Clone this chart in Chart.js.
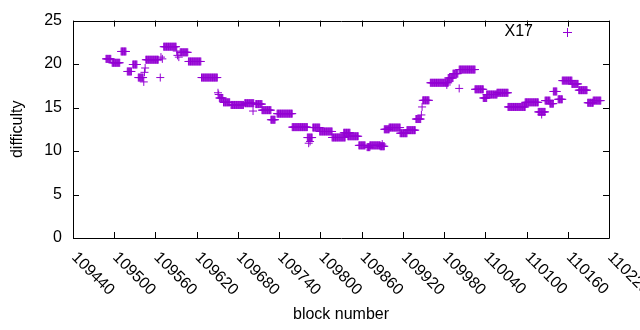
<!DOCTYPE html>
<html>
<head>
<meta charset="utf-8">
<script src="https://cdn.jsdelivr.net/npm/chart.js@4/dist/chart.umd.min.js"></script>
<style>
  html, body { margin: 0; padding: 0; background: #fff; }
  #wrap { width: 640px; height: 330px; }
</style>
</head>
<body>
<div id="wrap"><canvas id="difficultyChart" width="640" height="330"></canvas></div>
<script>
// runs of blocks with the same difficulty
var runStart = [109488, 109497, 109510, 109519, 109527, 109535, 109546, 109572, 109596, 109608,
  109627, 109653, 109659, 109670, 109690, 109706, 109715, 109728, 109737, 109759,
  109781, 109789, 109799, 109817, 109834, 109840, 109856, 109868, 109872, 109887,
  109893, 109900, 109916, 109926, 109939, 109949, 109960, 109986, 109993, 110002,
  110025, 110037, 110042, 110057, 110073, 110098, 110117, 110127, 110134, 110139,
  110146, 110152, 110166, 110176, 110189, 110197];
var runEnd = [109495, 109508, 109517, 109525, 109533, 109542, 109564, 109590, 109607, 109626,
  109650, 109658, 109668, 109688, 109703, 109715, 109728, 109734, 109759, 109781,
  109788, 109799, 109817, 109836, 109843, 109855, 109865, 109872, 109887, 109893,
  109900, 109916, 109926, 109938, 109946, 109958, 109986, 109993, 110000, 110025,
  110037, 110042, 110057, 110073, 110098, 110117, 110127, 110134, 110139, 110144,
  110152, 110166, 110175, 110188, 110197, 110208];
var runDiff = [20.6, 20.15, 21.45, 19.15, 19.95, 18.45, 20.5, 22.0, 21.35, 20.3,
  18.45, 16.1, 15.6, 15.3, 15.5, 15.4, 14.7, 13.6, 14.3, 12.75,
  11.55, 12.7, 12.25, 11.56, 12.1, 11.7, 10.65, 10.45, 10.65, 10.55,
  12.5, 12.7, 12.05, 12.4, 13.68, 15.83, 17.85, 18.4, 18.9, 19.37,
  17.1, 16.1, 16.5, 16.7, 15.07, 15.6, 14.5, 15.8, 15.45, 16.85,
  15.95, 18.1, 17.72, 17.0, 15.55, 15.8];

// lone blocks
var singleBlock = [109543, 109544, 109545, 109567, 109568, 109570, 109591, 109592, 109594, 109651,
  109652, 109702, 109783, 109785, 109890, 109947, 109948, 109984, 110002, 110122];
var singleDiff = [17.95, 19.05, 19.55, 18.45, 20.8, 20.6, 21.5, 21.0, 20.8, 16.7,
  16.5, 14.6, 10.9, 11.1, 10.8, 14.15, 15.07, 17.6, 17.2, 14.2];

var seriesName = 'X17';
var xTicks = [109440, 109500, 109560, 109620, 109680, 109740, 109800, 109860, 109920, 109980, 110040, 110100, 110160, 110220];
var yTicks = [0, 5, 10, 15, 20, 25];
var xTitle = 'block number';
var yTitle = 'difficulty';

var purple = 'rgb(148,0,211)';
var fontName = '"Liberation Sans", Arial, sans-serif';

var points = [];
for (var i = 0; i < runStart.length; i++) {
  for (var b = runStart[i]; b <= runEnd[i]; b++) {
    points.push({ x: b, y: runDiff[i] });
  }
}
for (var j = 0; j < singleBlock.length; j++) {
  points.push({ x: singleBlock[j], y: singleDiff[j] });
}

// gnuplot-like frame, inward ticks, rotated x labels, titles and key
var gnuFrame = {
  id: 'gnuFrame',
  afterDraw: function (chart) {
    var ctx = chart.ctx;
    var a = chart.chartArea;
    var xs = chart.scales.x, ys = chart.scales.y;
    var tl = 6;
    ctx.save();
    ctx.strokeStyle = '#000';
    ctx.lineWidth = 1;
    ctx.beginPath();
    ctx.rect(Math.round(a.left) + 0.5, Math.round(a.top) + 0.5,
      Math.round(a.right - a.left), Math.round(a.bottom - a.top));
    xTicks.forEach(function (v) {
      var px = Math.round(xs.getPixelForValue(v)) + 0.5;
      ctx.moveTo(px, a.bottom); ctx.lineTo(px, a.bottom - tl);
      ctx.moveTo(px, a.top); ctx.lineTo(px, a.top + tl);
    });
    yTicks.forEach(function (v) {
      var py = Math.round(ys.getPixelForValue(v)) + 0.5;
      ctx.moveTo(a.left, py); ctx.lineTo(a.left + tl, py);
      ctx.moveTo(a.right, py); ctx.lineTo(a.right - tl, py);
    });
    ctx.stroke();

    ctx.fillStyle = '#000';
    ctx.font = '16px ' + fontName;
    ctx.textAlign = 'left';
    ctx.textBaseline = 'middle';
    xTicks.forEach(function (v) {
      var px = xs.getPixelForValue(v);
      ctx.save();
      ctx.translate(px + 1, a.bottom + 17);
      ctx.rotate(Math.PI / 4);
      ctx.fillText(String(v), 0, 0);
      ctx.restore();
    });

    ctx.textAlign = 'center';
    ctx.fillText(xTitle, (a.left + a.right) / 2, 315);
    ctx.save();
    ctx.translate(18, (a.top + a.bottom) / 2);
    ctx.rotate(-Math.PI / 2);
    ctx.fillText(yTitle, 0, 0);
    ctx.restore();

    // key
    ctx.textAlign = 'right';
    ctx.fillText(seriesName, 533, 32);
    ctx.strokeStyle = purple;
    ctx.beginPath();
    ctx.moveTo(563, 32.5); ctx.lineTo(572, 32.5);
    ctx.moveTo(567.5, 28); ctx.lineTo(567.5, 37);
    ctx.stroke();
    ctx.restore();
  }
};

var chartConfig = {
  type: 'scatter',
  data: {
    datasets: [{
      label: seriesName,
      data: points,
      pointStyle: 'cross',
      pointRadius: 4,
      pointHoverRadius: 4,
      borderColor: purple,
      backgroundColor: purple,
      borderWidth: 1,
      showLine: false
    }]
  },
  options: {
    responsive: false,
    animation: false,
    events: [],
    layout: { padding: { top: 19, right: 31, left: 0, bottom: 0 } },
    plugins: {
      legend: { display: false },
      tooltip: { enabled: false }
    },
    scales: {
      x: {
        type: 'linear',
        min: 109440,
        max: 110220,
        grid: { display: false },
        border: { display: false },
        ticks: { display: false },
        afterBuildTicks: function (s) { s.ticks = xTicks.map(function (v) { return { value: v }; }); },
        afterFit: function (s) { s.height = 92; }
      },
      y: {
        min: 0,
        max: 25,
        grid: { display: false, drawTicks: false },
        border: { display: false },
        ticks: {
          color: '#000',
          padding: 11,
          font: { family: fontName, size: 16 }
        },
        afterBuildTicks: function (s) { s.ticks = yTicks.map(function (v) { return { value: v }; }); },
        afterFit: function (s) { s.width = 73; }
      }
    }
  },
  plugins: [gnuFrame]
};

var ctx = document.getElementById('difficultyChart').getContext('2d');
var scatterChart = new Chart(ctx, chartConfig);
</script>
</body>
</html>
